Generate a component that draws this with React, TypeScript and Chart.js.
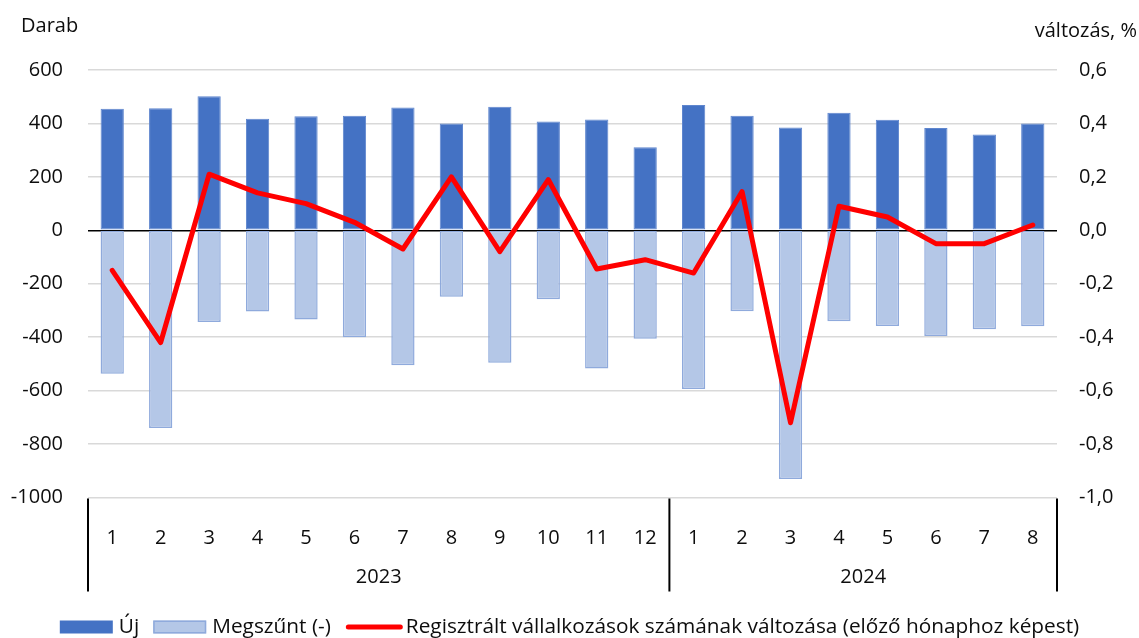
import { useEffect, useRef } from 'react';
import { Chart, registerables } from 'chart.js';

Chart.register(...registerables);

const FONT = '"Open Sans"';
const FONT_SIZE = 20;
const LEGEND_FONT_SIZE = 20.8;
const TEXT = '#0d0d0d';

const months = ['1', '2', '3', '4', '5', '6', '7', '8', '9', '10', '11', '12', '1', '2', '3', '4', '5', '6', '7', '8'];
const years = ['2023', '2024'];
const yearSpans = [12, 8];

const newFirms = [455, 457, 502, 418, 427, 429, 460, 400, 462, 407, 415, 311, 469, 429, 385, 440, 414, 383, 359, 400];
const closedFirms = [-537, -740, -343, -304, -334, -400, -505, -249, -496, -258, -517, -406, -594, -303, -931, -340, -358, -396, -370, -359];
const changePct = [-0.15, -0.42, 0.21, 0.14, 0.1, 0.03, -0.07, 0.2, -0.08, 0.19, -0.145, -0.11, -0.16, 0.145, -0.72, 0.09, 0.05, -0.05, -0.05, 0.02];

const leftMin = -1000;
const leftMax = 600;
const leftStep = 200;
const rightMin = -1;
const rightMax = 0.6;
const rightStep = 0.2;

const seriesNames = ['Új', 'Megszűnt (-)', 'Regisztrált vállalkozások számának változása (előző hónaphoz képest)'];
const leftTitle = 'Darab';
const rightTitle = 'változás, %';

const NEW_COLOR = '#4472C4';
const CLOSED_FILL = '#B4C7E7';
const CLOSED_BORDER = '#8FAADC';
const LINE_COLOR = '#FF0000';

const overlayPlugin = {
  id: 'overlay',
  afterDraw(chart: any) {
    const { ctx, chartArea, scales } = chart;
    const xs = scales.x;
    ctx.save();
    ctx.font = `${FONT_SIZE}px ${FONT}`;
    ctx.fillStyle = TEXT;
    ctx.textBaseline = 'middle';

    // axis titles
    ctx.textAlign = 'left';
    ctx.fillText(leftTitle, 21, 26);
    ctx.textAlign = 'right';
    ctx.fillText(rightTitle, 1137, 31);

    // group dividers and year labels
    const n = months.length;
    const cw = (xs.right - xs.left) / n;
    const top = chartArea.bottom + 1;
    const bottom = chartArea.bottom + 94;
    ctx.strokeStyle = '#000';
    ctx.lineWidth = 2;
    let cum = 0;
    const bounds = [xs.left];
    yearSpans.forEach((s) => {
      cum += s;
      bounds.push(xs.left + cum * cw);
    });
    bounds.forEach((bx) => {
      ctx.beginPath();
      ctx.moveTo(bx, top);
      ctx.lineTo(bx, bottom);
      ctx.stroke();
    });
    ctx.textAlign = 'center';
    years.forEach((y, i) => {
      ctx.fillText(y, (bounds[i] + bounds[i + 1]) / 2, chartArea.bottom + 79.5);
    });

    // legend
    ctx.font = `${LEGEND_FONT_SIZE}px ${FONT}`;
    const ly = 627;
    const boxW = 53;
    const boxH = 13;
    const lineW = 57;
    const w0 = ctx.measureText(seriesNames[0]).width;
    const w1 = ctx.measureText(seriesNames[1]).width;
    const w2 = ctx.measureText(seriesNames[2]).width;
    const total = boxW + 6 + w0 + 14 + boxW + 6 + w1 + 15 + lineW + 3 + w2;
    let x = 569.5 - total / 2;
    ctx.textAlign = 'left';
    ctx.fillStyle = NEW_COLOR;
    ctx.fillRect(x, ly - boxH / 2, boxW, boxH);
    x += boxW + 6;
    ctx.fillStyle = TEXT;
    ctx.fillText(seriesNames[0], x, ly);
    x += w0 + 14;
    ctx.fillStyle = CLOSED_FILL;
    ctx.fillRect(x, ly - boxH / 2, boxW, boxH);
    ctx.strokeStyle = CLOSED_BORDER;
    ctx.lineWidth = 1.5;
    ctx.strokeRect(x + 0.75, ly - boxH / 2 + 0.75, boxW - 1.5, boxH - 1.5);
    x += boxW + 6;
    ctx.fillStyle = TEXT;
    ctx.fillText(seriesNames[1], x, ly);
    x += w1 + 15;
    ctx.strokeStyle = LINE_COLOR;
    ctx.lineWidth = 5;
    ctx.lineCap = 'round';
    ctx.beginPath();
    ctx.moveTo(x + 2.5, ly);
    ctx.lineTo(x + lineW - 2.5, ly);
    ctx.stroke();
    x += lineW + 3;
    ctx.fillStyle = TEXT;
    ctx.fillText(seriesNames[2], x, ly);
    ctx.restore();
  },
};

function fmtPct(v: number) {
  const r = Math.round(v * 10) / 10;
  const s = (r === 0 ? 0 : r).toFixed(1);
  return s.replace('.', ',');
}

export default function App() {
  const ref = useRef<HTMLCanvasElement | null>(null);

  useEffect(() => {
    let chart: Chart | null = null;
    let cancelled = false;
    const build = () => {
      if (cancelled || !ref.current) return;
      const font = { family: FONT, size: FONT_SIZE };
      chart = new Chart(ref.current, {
        type: 'bar',
        data: {
          labels: months,
          datasets: [
            {
              type: 'line',
              label: seriesNames[2],
              data: changePct,
              yAxisID: 'y1',
              borderColor: LINE_COLOR,
              backgroundColor: LINE_COLOR,
              borderWidth: 5,
              pointRadius: 0,
              borderCapStyle: 'round',
              borderJoinStyle: 'round',
              tension: 0,
              order: 0,
            } as any,
            {
              type: 'bar',
              label: seriesNames[0],
              data: newFirms,
              yAxisID: 'y',
              backgroundColor: NEW_COLOR,
              borderColor: '#5F86CE',
              borderWidth: 1,
              borderSkipped: false,
              grouped: false,
              barPercentage: 0.8,
              categoryPercentage: 0.6,
              order: 1,
            } as any,
            {
              type: 'bar',
              label: seriesNames[1],
              data: closedFirms,
              yAxisID: 'y',
              backgroundColor: CLOSED_FILL,
              borderColor: CLOSED_BORDER,
              borderWidth: 1.5,
              borderSkipped: false,
              grouped: false,
              barPercentage: 0.8,
              categoryPercentage: 0.6,
              order: 2,
            } as any,
          ],
        },
        options: {
          animation: false,
          responsive: false,
          maintainAspectRatio: false,
          devicePixelRatio: 1,
          layout: { padding: { top: 70, left: 0, right: 0, bottom: 0 } },
          plugins: {
            legend: { display: false },
            tooltip: { enabled: false },
          },
          scales: {
            x: {
              grid: { display: false },
              border: { display: false },
              ticks: { font, color: TEXT, padding: 21, maxRotation: 0, autoSkip: false },
              afterFit: (s: any) => {
                s.height = 140.5;
              },
            },
            y: {
              position: 'left',
              min: leftMin,
              max: leftMax,
              ticks: {
                stepSize: leftStep,
                padding: 25,
                font,
                color: TEXT,
                callback: (v: any) => String(Math.round(Number(v))),
              },
              grid: {
                color: (c: any) => (c.tick && c.tick.value === 0 ? '#000000' : '#D9D9D9'),
                lineWidth: 1.6,
                drawTicks: false,
              },
              border: { display: false },
              afterFit: (s: any) => {
                s.width = 88;
              },
            },
            y1: {
              position: 'right',
              min: rightMin,
              max: rightMax,
              ticks: {
                stepSize: rightStep,
                padding: 22,
                font,
                color: TEXT,
                callback: (v: any) => fmtPct(Number(v)),
              },
              grid: { drawOnChartArea: false, drawTicks: false, display: false },
              border: { display: false },
              afterFit: (s: any) => {
                s.width = 82;
              },
            },
          },
        } as any,
        plugins: [overlayPlugin],
      });
    };
    const fontsApi = (document as any).fonts;
    if (fontsApi && fontsApi.load) {
      fontsApi.load(`${FONT_SIZE}px ${FONT}`).then(build, build);
    } else {
      build();
    }
    return () => {
      cancelled = true;
      if (chart) chart.destroy();
    };
  }, []);

  return (
    <div style={{ position: 'absolute', left: 0, top: 0, width: 1139, height: 638, background: '#fff' }}>
      <canvas ref={ref} width={1139} height={638} style={{ display: 'block', width: 1139, height: 638 }} />
    </div>
  );
}
